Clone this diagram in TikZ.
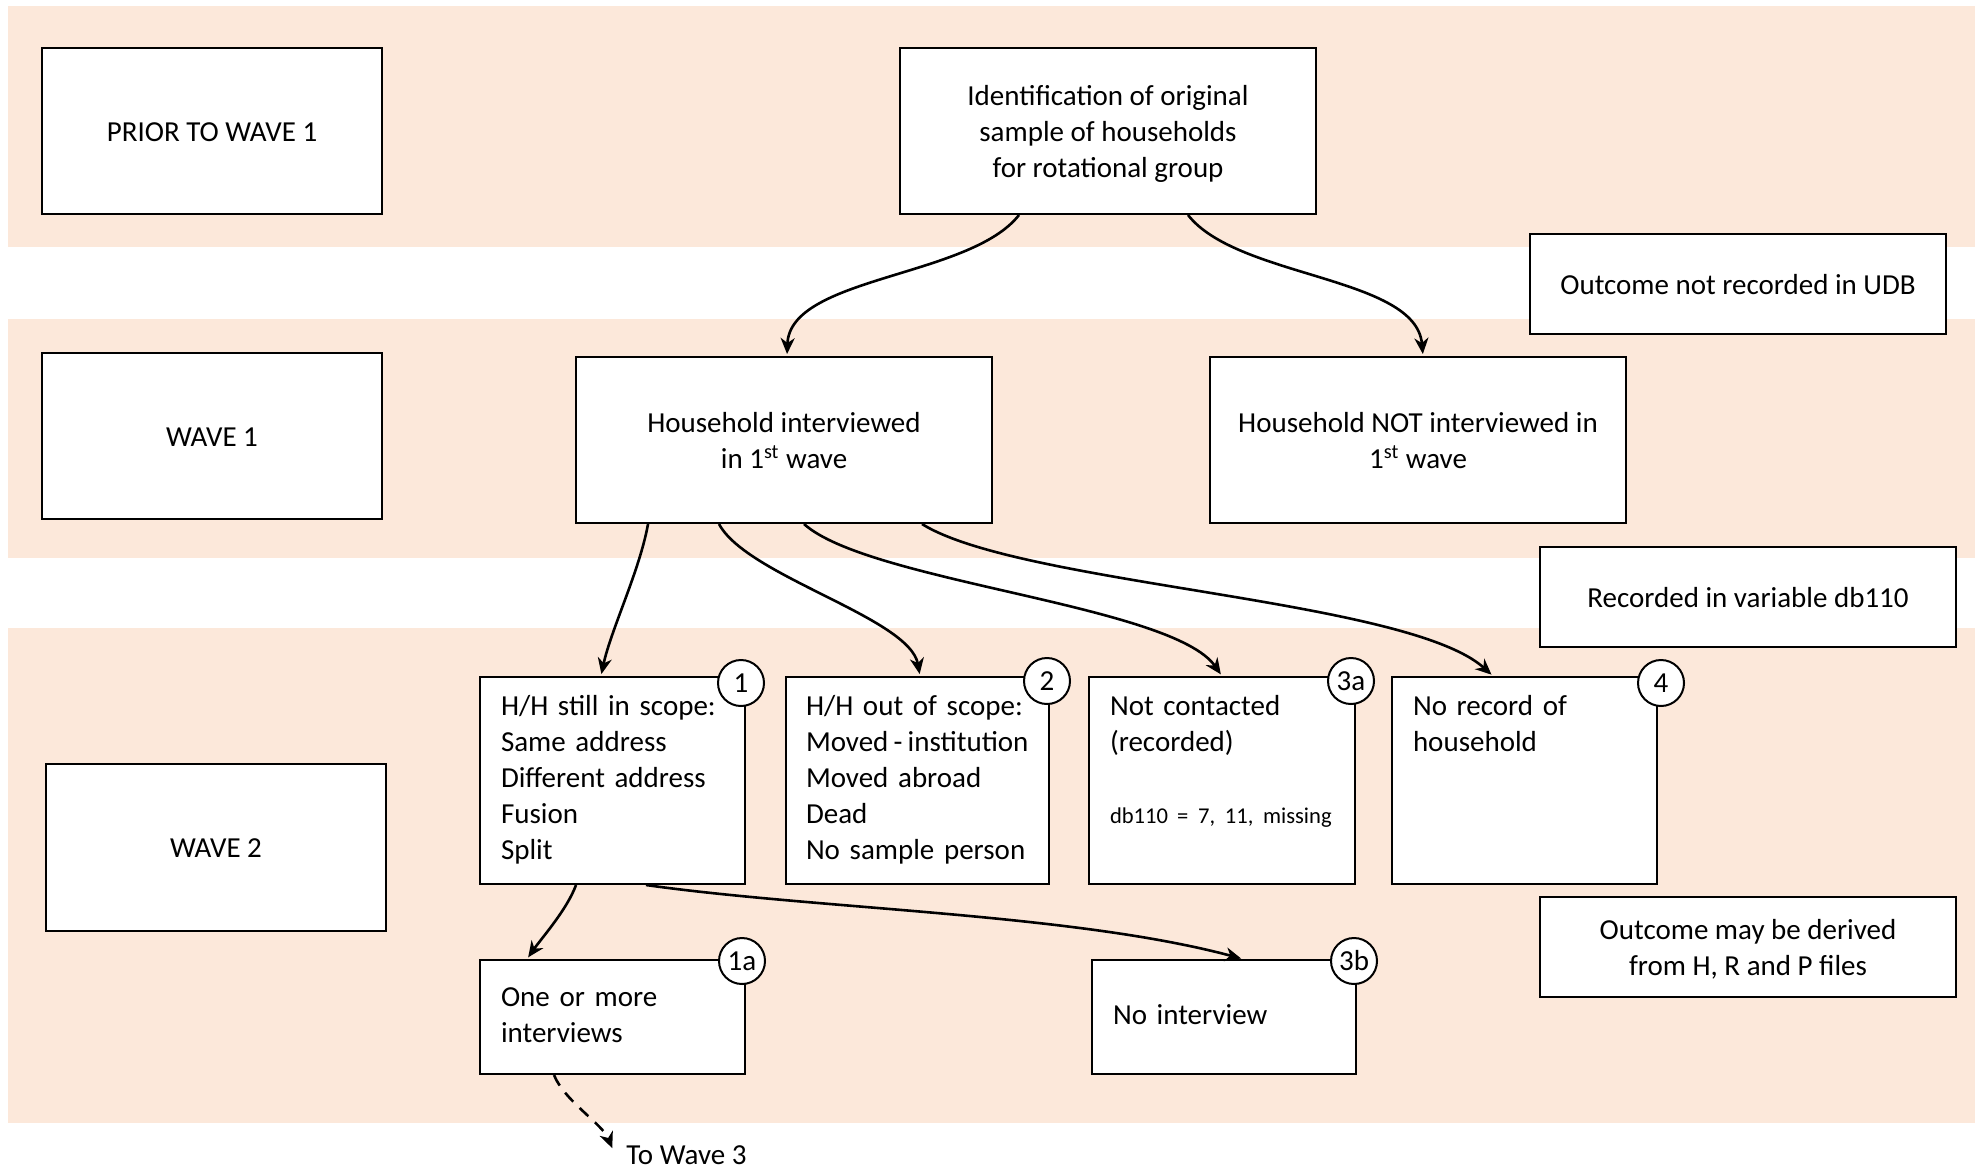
\documentclass[tikz,border=0pt]{standalone}
\usepackage{fontspec}
\setmainfont{Carlito}
\usetikzlibrary{arrows.meta,calc}
\definecolor{bandcol}{RGB}{252,232,218}
\newcommand\fs{\fontsize{14.5}{18}\selectfont}
\newcommand\bl[1]{\mbox{\strut #1}}
\newcommand\cl[1]{\mbox{\rule[-3.5pt]{0pt}{17.5pt}#1}}
\begin{document}
\begin{tikzpicture}[x=0.5pt,y=0.5pt,
  band/.style={fill=bandcol, draw=none},
  box/.style={draw=black, line width=1pt, fill=white, inner sep=0pt, font=\fs, align=center},
  lbox/.style={box, align=left, minimum height=103.5pt},
  tag/.style={circle, draw=black, line width=1pt, fill=white, minimum size=23pt, inner sep=0pt, font=\fs},
  conn/.style={line width=1.3pt, -{Stealth[length=8pt,width=7pt,inset=2.5pt]}, shorten >=1pt, looseness=0.75},
]
\path[use as bounding box] (0,0) rectangle (1984,-1168);
% bands
\fill[band] (8,-6) rectangle (1975,-247);
\fill[band] (8,-319) rectangle (1975,-558);
\fill[band] (8,-628) rectangle (1975,-1123);

% left labels
\node[box, minimum width=170pt, minimum height=83pt] (prior) at (212,-131) {\cl{PRIOR TO WAVE 1}};
\node[box, minimum width=170pt, minimum height=83pt] (wave1) at (212,-436) {\cl{WAVE 1}};
\node[box, minimum width=170pt, minimum height=83.5pt] (wave2) at (216,-847) {\cl{WAVE 2}};

% main flow
\node[box, minimum width=208pt, minimum height=83pt] (ident) at (1108,-131)
  {\cl{Identification of original}\\\cl{sample of households}\\\cl{for rotational group}};
\node[box, minimum width=208pt, minimum height=83pt] (hhint) at (784,-440)
  {\cl{Household interviewed}\\\cl{in 1\textsuperscript{st} wave}};
\node[box, minimum width=208pt, minimum height=83pt] (hhnot) at (1418,-440)
  {\cl{Household NOT interviewed in}\\\cl{1\textsuperscript{st} wave}};

% legend boxes
\node[box, minimum width=208pt, minimum height=50pt] (notudb) at (1738,-284) {\cl{Outcome not recorded in UDB}};
\node[box, minimum width=208pt, minimum height=50pt] (db110) at (1748,-597) {\cl{Recorded in variable db110}};
\node[box, minimum width=208pt, minimum height=50pt] (derived) at (1748,-947) {\cl{Outcome may be derived}\\\cl{from H, R and P files}};

% wave 2 outcome boxes
\node[lbox, minimum width=132.5pt, text width=111.5pt] (b1) at (612.5,-780.5)
  {\bl{H/H still in scope:}\\\bl{Same address}\\\bl{Different address}\\\bl{Fusion}\\\bl{Split}};
\node[lbox, minimum width=131.5pt, text width=111.5pt] (b2) at (917.5,-780.5)
  {\bl{H/H out of scope:}\\\bl{Moved\hspace{0.18em}-\hspace{0.18em}institution}\\\bl{Moved abroad}\\\bl{Dead}\\\bl{No sample person}};
\node[lbox, minimum width=133pt, text width=112pt] (b3a) at (1222,-780.5)
  {\bl{Not contacted}\\\bl{(recorded)}\\\bl{}\\\bl{\fontsize{11.3}{18}\selectfont db110\hspace{0.4em}= 7, 11, missing}\\\bl{}};
\node[lbox, minimum width=132.5pt, text width=111.5pt] (b4) at (1524.5,-780.5)
  {\bl{No record of}\\\bl{household}\\\bl{}\\\bl{}\\\bl{}};
\node[lbox, minimum width=132.5pt, minimum height=57pt, text width=111.5pt] (b1a) at (612.5,-1017)
  {\bl{One or more}\\\bl{interviews}};
\node[lbox, minimum width=132pt, minimum height=57pt, text width=111pt] (b3b) at (1224,-1017)
  {\bl{No interview}};

% tags
\node[tag] (t1)  at ($(b1.north east)+(-5,-7)$) {1};
\node[tag] (t2)  at ($(b2.north east)+(-3,-5)$) {2};
\node[tag] (t3a) at ($(b3a.north east)+(-5,-5)$) {3a};
\node[tag] (t4)  at ($(b4.north east)+(3,-7)$) {4};
\node[tag] (t1a) at ($(b1a.north east)+(-4,-2)$) {1a};
\node[tag] (t3b) at ($(b3b.north east)+(-3,-2)$) {3b};

% connectors
\draw[conn] ($(ident.south)+(-89,0)$) to[out=-128,in=88] ($(hhint.north)+(3,0)$);
\draw[conn] ($(ident.south)+(80,0)$) to[out=-52,in=95] ($(hhnot.north)+(5,0)$);
\draw[conn] ($(hhint.south)+(-136,0)$) to[out=-100,in=78] ($(b1.north)+(-11.5,0)$);
\draw[conn, looseness=0.6] ($(hhint.south)+(-65,0)$) to[out=-62,in=100] ($(b2.north)+(2.5,0)$);
\draw[conn, looseness=0.5] ($(hhint.south)+(20,0)$) to[out=-42,in=125] ($(b3a.north)+(0,0)$);
\draw[conn, looseness=0.5] ($(hhint.south)+(138,0)$) to[out=-32,in=138] ($(b4.north)+(-31.5,0)$);
\draw[conn] ($(b1.south)+(-36.5,0)$) to[out=-110,in=55] ($(b1a.north)+(-85.5,0)$);
\draw[conn] ($(b1.south)+(33.5,0)$) to[out=-8,in=165] ($(b3b.north)+(19,0)$);

% to wave 3
\node[anchor=west, font=\fs, inner sep=0pt] (w3) at (626,-1155) {To Wave 3};
\coordinate (w3end) at (613,-1150);
\draw[conn, dash pattern=on 6pt off 4.5pt] ($(b1a.south)+(-58.5,0)$) to[out=-68,in=112] (w3end);
\end{tikzpicture}
\end{document}
